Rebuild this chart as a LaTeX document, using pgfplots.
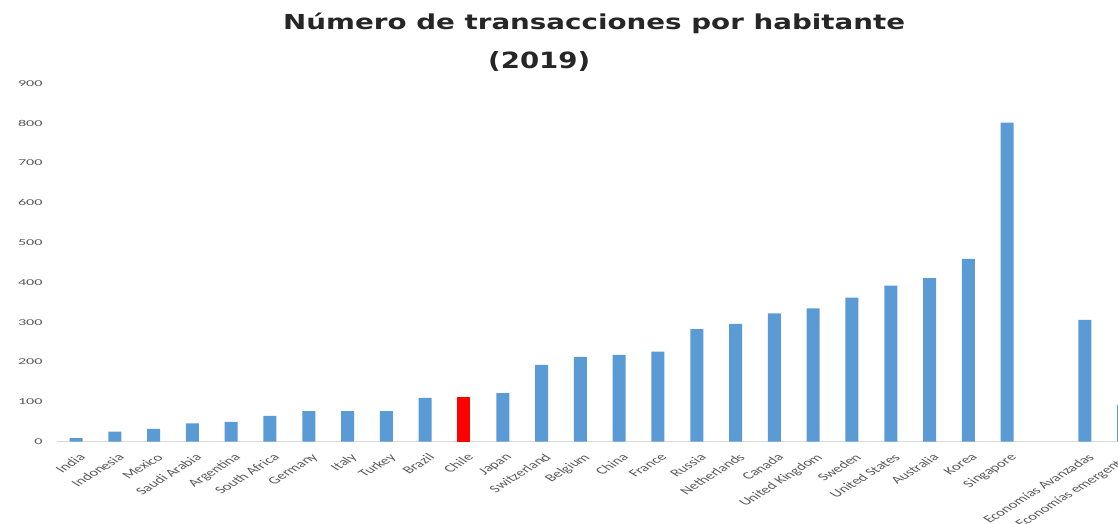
\documentclass[border=0pt]{standalone}
\usepackage{graphicx}
\usepackage{fontspec}
\setmainfont{Carlito}
\newfontfamily\titlefont{DejaVu Sans}
\usepackage{pgfplots}
\pgfplotsset{compat=1.18}
\definecolor{barblue}{HTML}{5B9BD5}
\definecolor{barred}{HTML}{FF0000}
\definecolor{labgray}{HTML}{595959}
\definecolor{titlecol}{HTML}{262626}
\definecolor{basegray}{HTML}{D9D9D9}
\begin{document}
\begin{tikzpicture}
\clip[use as bounding box] (0pt,0pt) rectangle (1118pt,524pt);
\node[anchor=base west, inner sep=0pt, text=titlecol] at (283pt,494.5pt)
  {\resizebox{622pt}{16.5pt}{\titlefont\bfseries Número de transacciones por habitante}};
\node[anchor=base west, inner sep=0pt, text=titlecol] at (488pt,455pt)
  {\resizebox{102pt}{17pt}{\titlefont\bfseries (2019)}};
\begin{axis}[
  scale only axis,
  at={(56.6pt,82.3pt)}, anchor=south west,
  width=1086.4pt, height=358.4pt,
  xmin=-0.5, xmax=27.5, ymin=0, ymax=900,
  enlargelimits=false,
  ybar, bar width=13pt, bar shift=0pt,
  axis lines*=left,
  x axis line style={draw=basegray, line width=1.5pt},
  y axis line style={draw=none},
  major tick length=0pt,
  ytick={0,100,...,900},
  xtick={0,1,2,3,4,5,6,7,8,9,10,11,12,13,14,15,16,17,18,19,20,21,22,23,24,26,27},
  xticklabels={India,Indonesia,Mexico,Saudi Arabia,Argentina,South Africa,Germany,Italy,Turkey,Brazil,Chile,Japan,Switzerland,Belgium,China,France,Russia,Netherlands,Canada,United Kingdom,Sweden,United States,Australia,Korea,Singapore,Economías Avanzadas,Economías emergentes},
  /pgf/number format/assume math mode=true,
  yticklabel style={font=\fontsize{9}{11}\selectfont, text=labgray, anchor=east, inner sep=0pt, xshift=-13.6pt, xscale=1.8},
  xticklabel style={font=\fontsize{10.5}{12}\selectfont, text=labgray, anchor=north east, inner sep=0pt, xshift=2pt, yshift=-11pt, xscale=1.6, rotate=45},
  clip=false,
]
\addplot[fill=barblue, draw=none] coordinates {
(0,9) (1,25) (2,32) (3,46) (4,50) (5,65) (6,77) (7,77) (8,77) (9,110)
(11,122) (12,193) (13,213) (14,218) (15,226) (16,283) (17,296) (18,322)
(19,335) (20,362) (21,392) (22,411) (23,459) (24,801) (26,306) (27,92)
};
\addplot[fill=barred, draw=none] coordinates {(10,113)};
\end{axis}
\end{tikzpicture}
\end{document}
